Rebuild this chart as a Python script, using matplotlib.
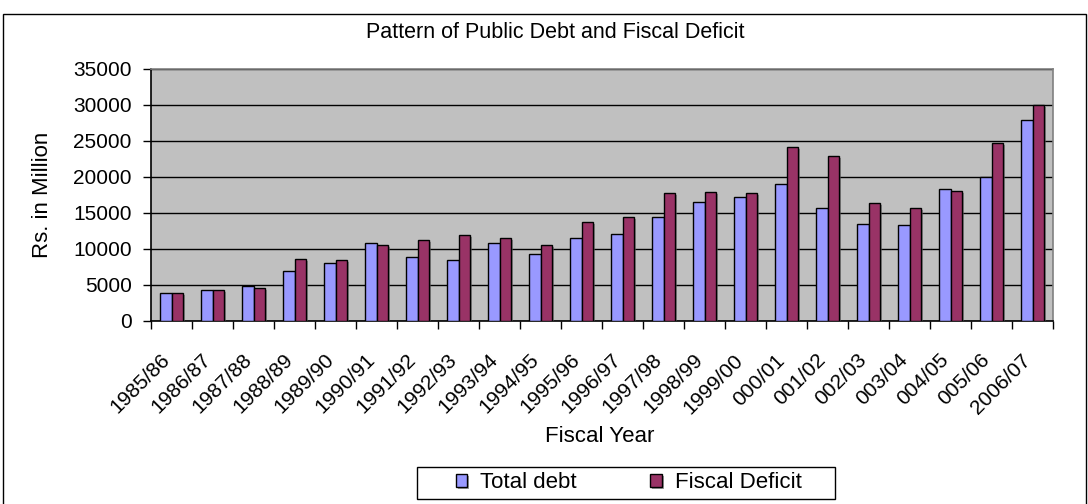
import matplotlib
matplotlib.use("Agg")
import matplotlib.pyplot as plt
import matplotlib.patheffects as pe
import matplotlib.patches as mpatches
from matplotlib.transforms import ScaledTranslation
import numpy as np

plt.rcParams['font.family'] = ['Liberation Sans', 'DejaVu Sans']

years = ["1985/86", "1986/87", "1987/88", "1988/89", "1989/90", "1990/91",
         "1991/92", "1992/93", "1993/94", "1994/95", "1995/96", "1996/97",
         "1997/98", "1998/99", "1999/00", "000/01", "001/02", "002/03",
         "003/04", "004/05", "005/06", "2006/07"]
total_debt = [3940, 4260, 4910, 6900, 8100, 10790, 8890, 8430, 10880, 9260,
              11570, 12080, 14400, 16570, 17270, 19070, 15740, 13430, 13290,
              18290, 20050, 27870]
fiscal_deficit = [3940, 4260, 4580, 8560, 8430, 10560, 11250, 11900, 11570,
                  10600, 13700, 14400, 17730, 17870, 17730, 24170, 22870,
                  16390, 15740, 18060, 24680, 30050]
y_ticks = [0, 5000, 10000, 15000, 20000, 25000, 30000, 35000]

W, H = 1088, 504
fig = plt.figure(figsize=(W / 100, H / 100), dpi=100)
ax = fig.add_axes([151 / W, 1 - 321 / H, (1053 - 151) / W, (321 - 69) / H])
ax.set_facecolor('#C0C0C0')

x = np.arange(len(years))
bw = 0.29
shadow = [pe.SimplePatchShadow(offset=(1.5, -1.5), shadow_rgbFace='#606060', alpha=0.6), pe.Normal()]
b1 = ax.bar(x - bw / 2, total_debt, bw, color='#9999FF', edgecolor='black', linewidth=1.0,
            label='Total debt', zorder=3)
b2 = ax.bar(x + bw / 2, fiscal_deficit, bw, color='#993366', edgecolor='black', linewidth=1.0,
            label='Fiscal Deficit', zorder=3)
for p in list(b1) + list(b2):
    p.set_path_effects(shadow)

ax.set_xlim(-0.5, len(years) - 0.5)
ax.set_ylim(0, 35000)
ax.set_yticks(y_ticks)
ax.set_yticklabels([str(v) for v in y_ticks], fontsize=15)
ax.yaxis.grid(True, color='black', linewidth=1.0, zorder=1)
ax.set_axisbelow(True)

# major x ticks at category boundaries, labels on minor ticks at centers
ax.set_xticks(np.arange(-0.5, len(years), 1.0))
ax.set_xticklabels([])
ax.set_xticks(x, minor=True)
ax.set_xticklabels(years, minor=True, rotation=45, ha='right', va='center',
                   rotation_mode='anchor', fontsize=15)
ax.tick_params(axis='x', which='major', direction='out', length=6, width=1, color='black')
ax.tick_params(axis='x', which='minor', length=0, pad=26)
ax.tick_params(axis='y', direction='out', length=6, width=1, color='black', pad=8)
off = ScaledTranslation(-5 / 100, 0, fig.dpi_scale_trans)
for lab in ax.get_xticklabels(minor=True):
    lab.set_transform(lab.get_transform() + off)

for s in ['left', 'bottom']:
    ax.spines[s].set_color('black')
    ax.spines[s].set_linewidth(1.2)
for s in ['top', 'right']:
    ax.spines[s].set_color('#808080')
    ax.spines[s].set_linewidth(1.2)

fig.text(555 / W, 1 - 33 / H, 'Pattern of Public Debt and Fiscal Deficit',
         ha='center', va='center', fontsize=15.5)
fig.text(42 / W, 1 - 195 / H, 'Rs. in Million', ha='center', va='center',
         rotation=90, fontsize=16)
fig.text(600 / W, 1 - 437 / H, 'Fiscal Year', ha='center', va='center', fontsize=16)

leg = fig.legend(handles=[b1, b2], labels=['Total debt', 'Fiscal Deficit'],
                 loc='center left', bbox_to_anchor=(456 / W, 1 - 483 / H), ncol=2,
                 fontsize=16, frameon=False,
                 handlelength=0.5, handleheight=0.5, handletextpad=0.6,
                 columnspacing=3.3, borderpad=0, borderaxespad=0)

legend_box = mpatches.Rectangle((417 / W, 1 - 499 / H), (835 - 417) / W, (499 - 467) / H,
                                transform=fig.transFigure, fill=False,
                                edgecolor='black', linewidth=1.0)
fig.patches.append(legend_box)

border = mpatches.Rectangle((3 / W, -10 / H), (1086 - 3) / W, (504 + 10 - 14) / H,
                            transform=fig.transFigure, fill=False,
                            edgecolor='black', linewidth=1.0)
fig.patches.append(border)

fig.savefig('out.png', dpi=100, facecolor='white')
